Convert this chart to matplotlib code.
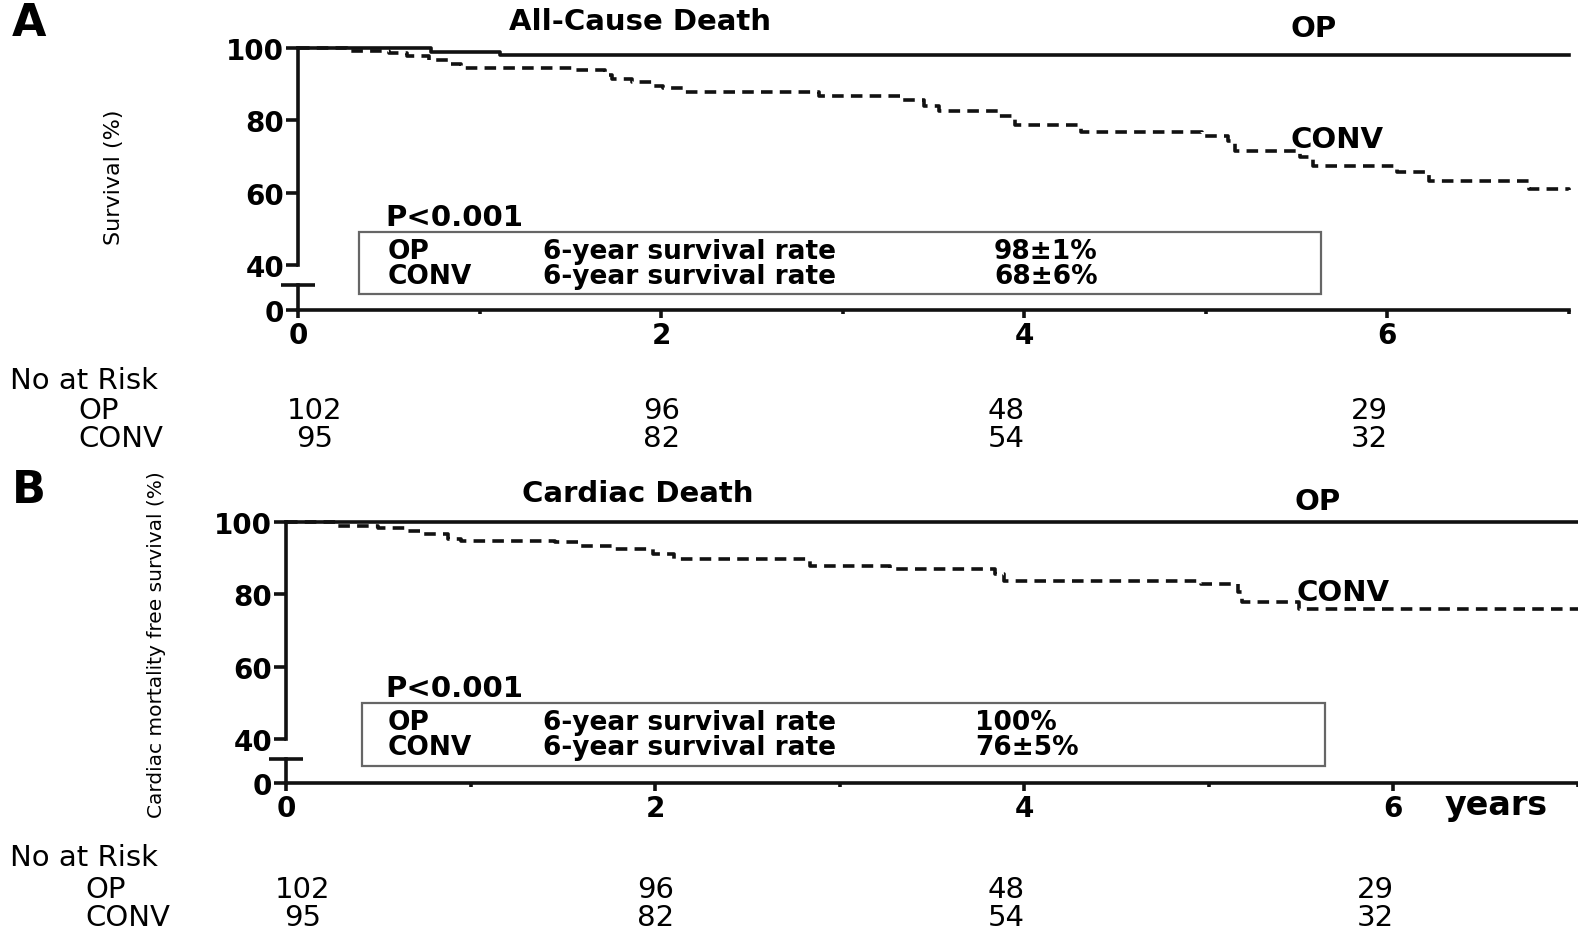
import matplotlib
matplotlib.use("Agg")
import matplotlib.pyplot as plt
from matplotlib.patches import Rectangle
from matplotlib import transforms

plt.rcParams['font.family'] = ['DejaVu Sans']
plt.rcParams['font.weight'] = 'bold'

W, H = 1578, 929

# Kaplan-Meier curves: time (years) and survival (%) after each step
op_a_t = [0, 0.73, 1.11, 7.0]
op_a_v = [100, 99.0, 98.0, 98.0]
conv_a_t = [0, 0.27, 0.50, 0.60, 0.72, 0.83, 0.90, 1.53, 1.69, 1.73, 1.84, 1.96, 2.01, 2.12,
            2.87, 3.32, 3.45, 3.53, 3.86, 3.95, 4.31, 4.98, 5.12, 5.16, 5.52, 5.59, 6.05,
            6.23, 6.78, 7.0]
conv_a_v = [100, 99.3, 98.7, 97.8, 96.6, 95.6, 94.5, 93.8, 92.6, 91.5, 90.6, 89.5, 88.9, 87.8,
            86.7, 85.5, 84.1, 82.7, 81.3, 78.7, 76.7, 75.6, 74.4, 71.6, 69.8, 67.5, 65.6,
            63.3, 61.0, 60.6]

op_b_t = [0, 7.0]
op_b_v = [100, 100]
conv_b_t = [0, 0.28, 0.50, 0.66, 0.74, 0.88, 0.95, 1.46, 1.60, 1.77, 1.99, 2.10, 2.84, 3.27,
            3.84, 3.89, 4.96, 5.16, 5.18, 5.49, 7.0]
conv_b_v = [100, 99.0, 98.3, 97.6, 96.7, 95.3, 94.8, 94.4, 93.3, 92.5, 91.1, 89.8, 87.8, 87.0,
            85.6, 83.8, 82.9, 80.6, 77.9, 76.0, 76.0]

# numbers at risk
risk_years = [0, 2, 4, 6]
risk_shift = [0.09, 0.0, -0.1, -0.1]
risk_op_a = [102, 96, 48, 29]
risk_conv_a = [95, 82, 54, 32]
risk_op_b = [102, 96, 48, 29]
risk_conv_b = [95, 82, 54, 32]

rate_a = ["98±1%", "68±6%"]
rate_b = ["100%", "76±5%"]

LW = 2.6
INK = '#111111'


def fx(px):
    return px / W


def fy(py):
    return 1 - py / H


def rect(left, right, top, bottom):
    return [fx(left), fy(bottom), fx(right) - fx(left), fy(top) - fy(bottom)]


def spacing(gap_px, size, unit):
    # linespacing giving baselines gap_px apart (unit: line step per em for DejaVu)
    return gap_px / (unit * size * 100 / 72)


fig = plt.figure(figsize=(W / 100, H / 100), dpi=100)


def panel(x0, x1, y100, y40, ycap, yaxis, op_t, op_v, conv_t, conv_v):
    # broken y axis: 40-100 on top, a short stub holding 0 below
    top = fig.add_axes(rect(x0, x1, y100, y40))
    bot = fig.add_axes(rect(x0, x1, ycap, yaxis))
    top.step(op_t, op_v, where='post', color=INK, lw=LW, clip_on=False)
    top.step(conv_t, conv_v, where='post', color=INK, lw=LW, dashes=(3.2, 2), clip_on=False)
    for ax in (top, bot):
        ax.set_xlim(0, 7)
        ax.patch.set_alpha(0)
        ax.spines['top'].set_visible(False)
        ax.spines['right'].set_visible(False)
        ax.spines['left'].set_linewidth(LW)
        ax.spines['left'].set_color(INK)
    top.set_ylim(40, 100)
    top.spines['bottom'].set_visible(False)
    top.set_xticks([])
    top.set_yticks([40, 60, 80, 100])
    top.set_yticks([40], minor=True)
    top.tick_params(axis='y', which='major', direction='out', length=9, width=LW,
                    labelsize=20, pad=1, color=INK)
    top.tick_params(axis='y', which='minor', direction='inout', length=24, width=LW, color=INK)

    bot.set_ylim(0, 1)
    bot.spines['bottom'].set_linewidth(LW)
    bot.spines['bottom'].set_color(INK)
    bot.set_yticks([0])
    bot.set_yticks([1], minor=True)
    bot.tick_params(axis='y', which='major', direction='out', length=9, width=LW,
                    labelsize=20, pad=1, color=INK)
    bot.tick_params(axis='y', which='minor', direction='inout', length=24, width=LW, color=INK)
    bot.set_xticks([0, 2, 4, 6])
    bot.set_xticks([1, 3, 5, 7], minor=True)
    bot.tick_params(axis='x', which='major', direction='out', length=6, width=LW,
                    labelsize=20, pad=2, color=INK)
    bot.tick_params(axis='x', which='minor', direction='out', length=3, width=LW, color=INK)
    return top, bot


def legend_box(left, right, top, bottom, base_p, base_conv, rates, rate_x):
    fig.text(fx(385), fy(base_p), "P<0.001", size=21, va='baseline', ha='left')
    fig.add_artist(Rectangle((fx(left), fy(bottom)), fx(right) - fx(left), fy(top) - fy(bottom),
                             transform=fig.transFigure, fill=False, ec='#666666', lw=1.6))
    ls = spacing(24, 19, 0.95)
    # multi-line texts sit on the baseline of their last row
    fig.text(fx(388), fy(base_conv), "OP\nCONV", size=19, va='baseline', ha='left',
             linespacing=ls)
    fig.text(fx(543), fy(base_conv), "6-year survival rate\n6-year survival rate", size=19,
             va='baseline', ha='left', linespacing=ls)
    fig.text(fx(rate_x), fy(base_conv), "\n".join(rates), size=19, va='baseline', ha='left',
             linespacing=ls)


def risk_table(ax, x_lab, base_head, base_conv, op_n, conv_n):
    tr = transforms.blended_transform_factory(ax.transData, fig.transFigure)
    ls = spacing(27, 21, 0.93)
    fig.text(fx(10), fy(base_head), "No at Risk", size=21, weight='normal', va='baseline')
    fig.text(fx(x_lab), fy(base_conv), "OP\nCONV", size=21, weight='normal', va='baseline',
             linespacing=ls)
    for t, s, a, b in zip(risk_years, risk_shift, op_n, conv_n):
        ax.text(t + s, fy(base_conv), f"{a}\n{b}", transform=tr, size=21, weight='normal',
                ha='center', va='baseline', multialignment='center', linespacing=ls)


# Panel A: all-cause death
top_a, bot_a = panel(298, 1569, 49, 266, 286, 311, op_a_t, op_a_v, conv_a_t, conv_a_v)
fig.text(fx(12), fy(36), "A", size=32, va='baseline', ha='left')
fig.text(fx(640), fy(30), "All-Cause Death", size=21, va='baseline', ha='center')
fig.text(fx(1291), fy(37), "OP", size=21, va='baseline', ha='left')
fig.text(fx(1291), fy(148), "CONV", size=21, va='baseline', ha='left')
fig.text(fx(114), fy(177), "Survival (%)", size=16, weight='normal', rotation=90,
         va='center', ha='center')
legend_box(359, 1321, 233, 295, 226, 284, rate_a, 994)
risk_table(bot_a, 78, 389, 447, risk_op_a, risk_conv_a)

# Panel B: cardiac death
top_b, bot_b = panel(286, 1578, 523, 740, 760, 784, op_b_t, op_b_v, conv_b_t, conv_b_v)
fig.text(fx(12), fy(503), "B", size=32, va='baseline', ha='left')
fig.text(fx(638), fy(502), "Cardiac Death", size=21, va='baseline', ha='center')
fig.text(fx(1294), fy(510), "OP", size=21, va='baseline', ha='left')
fig.text(fx(1296), fy(601), "CONV", size=21, va='baseline', ha='left')
fig.text(fx(156), fy(645), "Cardiac mortality free survival (%)", size=14.5, weight='normal',
         rotation=90, va='center', ha='center')
fig.text(fx(1445), fy(815), "years", size=24, va='baseline', ha='left')
legend_box(362, 1325, 704, 767, 697, 755, rate_b, 975)
risk_table(bot_b, 85, 866, 926, risk_op_b, risk_conv_b)

fig.savefig("out.png", dpi=100)
